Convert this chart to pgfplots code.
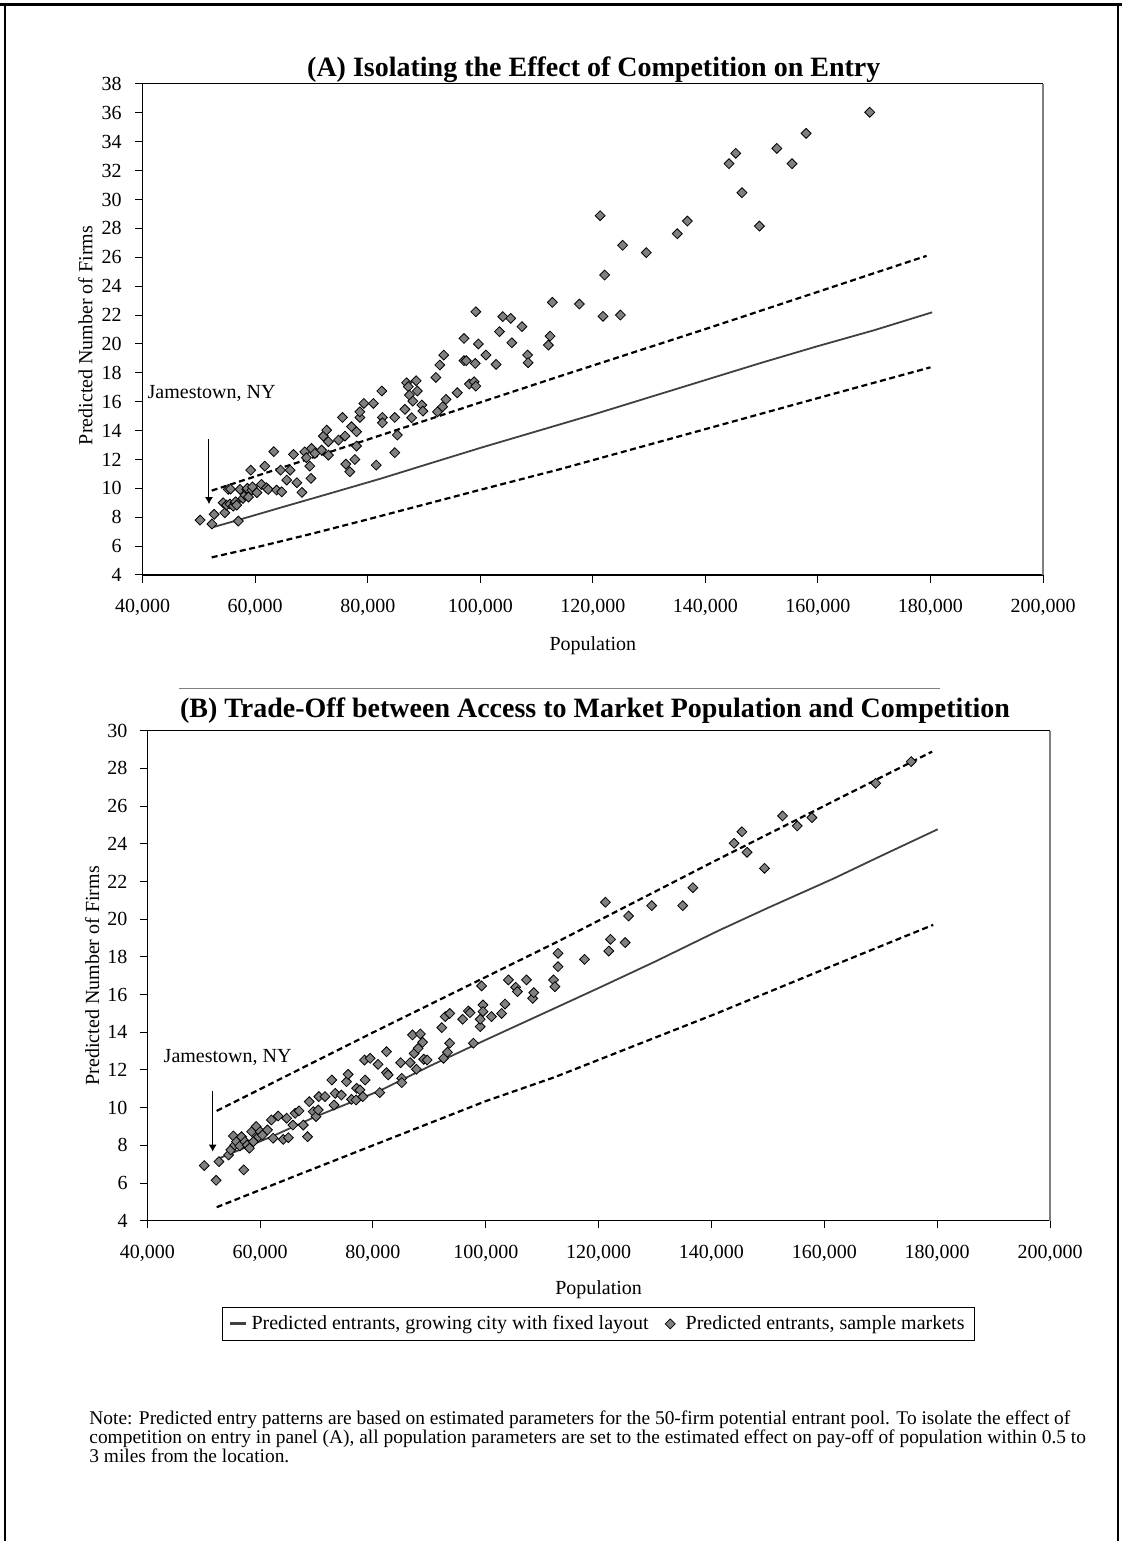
\documentclass[border=0pt]{standalone}
\usepackage{pgfplots}
\pgfplotsset{compat=1.18}
\usepackage{fontspec}
\setmainfont{Liberation Serif}
\usetikzlibrary{arrows.meta}

\definecolor{markgray}{RGB}{128,128,128}
\definecolor{linegray}{RGB}{64,64,64}
\definecolor{framegray}{RGB}{128,128,128}

\pgfplotsset{
  entry/.style={
    scale only axis,
    clip=false,
    xmin=40000, xmax=200000,
    xtick={40000,60000,80000,100000,120000,140000,160000,180000,200000},
    scaled x ticks=false,
    /pgf/number format/fixed,
    /pgf/number format/precision=0,
    /pgf/number format/1000 sep={,},
    /pgf/number format/assume math mode=true,
    axis x line*=bottom, axis y line*=left,
    axis line style={line width=0.6pt},
    tick align=outside,
    major tick length=3.8pt,
    tick style={black, line width=0.5pt},
    tick label style={font=\fontsize{10}{12}\selectfont},
    xticklabel style={inner sep=0pt, anchor=north, yshift=-8.3pt},
    label style={font=\fontsize{10}{12}\selectfont},
    every axis title/.style={anchor=base, inner sep=0pt,
      font=\bfseries\fontsize{14}{16}\selectfont},
  },
  pts/.style={only marks, mark=square*, mark size=1.75pt,
    mark options={rotate=45, fill=markgray, draw=black, line width=0.4pt}},
  mid/.style={linegray, line width=0.9pt, no marks},
  band/.style={black, line width=1.1pt, dash pattern=on 3pt off 1.8pt, no marks},
}

\begin{document}
\begin{tikzpicture}
\path[use as bounding box] (0pt,0pt) rectangle (561pt,770.5pt);
% page frame
\draw[black, line width=1.5pt] (0pt,768.2pt) -- (561pt,768.2pt);
\draw[black, line width=0.8pt] (2.5pt,768.5pt) -- (2.5pt,0pt);
\draw[black, line width=0.8pt] (559pt,768.5pt) -- (559pt,0pt);
\draw[gray, line width=0.5pt] (89.5pt,426pt) -- (470pt,426pt);

% ---------------- panel A
\begin{axis}[entry,
  at={(71.35pt,483pt)}, anchor=south west,
  width=450.15pt, height=245.5pt,
  ymin=4, ymax=38, ytick={4,6,...,38},
  yticklabel style={inner sep=0pt, anchor=east, xshift=-6.5pt},
  title={(A) Isolating the Effect of Competition on Entry},
  title style={at={(axis description cs:0.501,1)}, yshift=3.5pt},
  xlabel={Population},
  xlabel style={at={(axis description cs:0.5,-0.1446)}, anchor=center},
  ylabel={Predicted Number of Firms},
  ylabel style={at={(axis description cs:-0.0635,0.488)}, anchor=center, rotate=0},
]
\draw[black, line width=0.5pt] (rel axis cs:0,1) -- (rel axis cs:1,1);
\draw[framegray, line width=0.7pt] (rel axis cs:1,1) -- (rel axis cs:1,0);

\addplot[band] coordinates {(52260,9.84) (80000,13.38) (113000,17.62) (140000,21.03) (179300,26.1)};
\addplot[band] coordinates {(52260,5.22) (60000,5.9) (70000,6.85) (80000,7.85) (100000,9.9) (114200,11.33) (140000,14.1) (160000,16.25) (180000,18.38)};
\addplot[mid] coordinates {(52140,7.27) (57000,7.81) (65000,8.72) (72400,9.55) (82200,10.66) (90000,11.6) (100000,12.8) (110000,13.95) (120000,15.1) (130000,16.3) (140000,17.5) (150000,18.7) (160000,19.85) (165000,20.4) (170000,20.95) (180300,22.19)};
\addplot[pts] coordinates {
(50200,7.80) (52300,7.53) (52700,8.20) (54300,9.00) (54600,8.31) (54900,8.84)
(55200,9.93) (55600,9.95) (55500,8.91) (56100,8.77) (56400,9.00) (56500,9.07)
(56700,8.84) (57000,7.73) (57300,9.93) (57800,9.30) (58200,9.53) (58500,9.93)
(58600,10.0) (58800,9.40) (59200,11.26) (59400,9.88) (59500,10.1) (60300,9.70)
(61100,10.27) (61700,11.54) (62000,10.04) (62300,9.93) (63300,12.54) (63800,9.88)
(64500,11.26) (64700,9.76) (65600,10.57) (66200,11.26) (66800,12.35) (67400,10.39)
(68300,9.72) (68800,12.53) (69100,12.12) (69700,11.54) (69900,10.69) (70000,12.76)
(70600,12.42) (71800,12.65) (72100,13.62) (72700,14.03) (73000,13.23) (73000,12.30)
(74800,13.34) (75500,14.91) (75950,13.62) (76100,11.68) (76800,11.15) (77100,14.27)
(77700,12.00) (78000,12.93) (78000,13.92) (78600,14.91) (78600,15.30) (79300,15.88)
(81000,15.88) (81500,11.61) (82500,16.74) (82600,14.91) (82600,14.54) (84800,14.91)
(84800,12.47) (85250,13.69) (86600,15.47) (86900,17.31) (87200,17.04) (87400,16.46)
(87800,14.89) (88000,16.04) (88600,17.45) (88800,16.74) (89600,15.77) (89800,15.35)
(92100,17.68) (92400,15.30) (92800,18.54) (93300,15.65) (93500,19.23) (93900,16.16)
(95900,16.62) (97100,20.38) (97100,18.84) (97500,18.84) (98050,17.22) (98900,17.38)
(99100,18.65) (99200,22.23) (99200,17.08) (99650,20.00) (101000,19.23) (102800,18.58)
(103400,20.85) (104000,21.89) (105400,21.77) (105600,20.08) (107400,21.20) (108400,19.23)
(108500,18.70) (112100,19.92) (112400,20.54) (112800,22.88) (117600,22.76) (121300,28.88)
(121800,21.91) (122100,24.77) (124900,22.00) (125300,26.83) (129500,26.32) (135000,27.63)
(136800,28.51) (144200,32.48) (145400,33.20) (146500,30.47) (149600,28.16) (152700,33.54)
(155400,32.48) (157900,34.58) (169200,36.04)
};
\node[anchor=base west, inner sep=0pt, font=\fontsize{10}{12}\selectfont] at (axis cs:40820,16.23) {Jamestown, NY};
\draw[black, line width=0.5pt, -{Latex[length=3.5pt, width=4pt]}] (axis cs:51780,13.40) -- (axis cs:51780,8.91);
\end{axis}

% ---------------- panel B
\begin{axis}[entry,
  at={(73.65pt,160.1pt)}, anchor=south west,
  width=451.35pt, height=245.05pt,
  ymin=4, ymax=30, ytick={4,6,...,30},
  yticklabel style={inner sep=0pt, anchor=east, xshift=-5.9pt},
  title={(B) Trade-Off between Access to Market Population and Competition},
  title style={at={(axis description cs:0.496,1)}, yshift=6.35pt},
  xlabel={Population},
  xlabel style={at={(axis description cs:0.5,-0.141)}, anchor=center},
  ylabel={Predicted Number of Firms},
  ylabel style={at={(axis description cs:-0.061,0.5)}, anchor=center, rotate=0},
  legend columns=2,
  legend style={at={(axis description cs:0.5,-0.1755)}, anchor=north,
    draw=black, line width=0.5pt, font=\fontsize{10}{12}\selectfont,
    inner xsep=3pt, inner ysep=2pt,
    /tikz/every even column/.append style={column sep=6pt}},
]
\draw[black, line width=0.5pt] (rel axis cs:0,1) -- (rel axis cs:1,1);
\draw[framegray, line width=0.7pt] (rel axis cs:1,1) -- (rel axis cs:1,0);

\addplot[band, forget plot] coordinates {(52300,9.83) (80000,13.99) (113000,18.85) (140000,23.0) (179100,28.89)};
\addplot[band, forget plot] coordinates {(52300,4.72) (65900,6.34) (80000,8.0) (100000,10.35) (112200,11.62) (140900,15.0) (160000,17.35) (179300,19.7)};
\addplot[mid, legend image code/.code={\draw[linegray, line width=1.4pt] (0pt,0pt) -- (8pt,0pt);}] coordinates {(52300,7.26) (62300,8.5) (70000,9.55) (81200,10.9) (90000,12.2) (100000,13.6) (113100,15.4) (120000,16.35) (130000,17.75) (141300,19.4) (150000,20.6) (161600,22.15) (170000,23.35) (180100,24.77)};
\addlegendentry{Predicted entrants, growing city with fixed layout}
\addplot[pts, legend image code/.code={
    \path (0pt,0pt) (8pt,0pt);
    \filldraw[fill=markgray, draw=black, line width=0.4pt]
      (2.5pt,2.5pt) -- (5pt,0pt) -- (2.5pt,-2.5pt) -- (0pt,0pt) -- cycle;}] coordinates {
(50100,6.93) (52700,7.14) (52200,6.15) (57100,6.70) (54400,7.49) (54800,7.76)
(55250,8.50) (55500,8.02) (55800,8.20) (56400,7.97) (56700,8.46) (57300,8.20)
(57700,8.02) (58100,7.85) (58500,8.73) (58800,8.20) (59300,9.00) (59700,8.46)
(60000,8.73) (60400,8.55) (61300,8.82) (62000,9.35) (62300,8.38) (63200,9.56)
(64100,8.32) (64700,9.44) (65000,8.41) (65800,9.08) (66200,9.70) (66900,9.83)
(67650,9.08) (68400,8.46) (68700,10.32) (69400,9.79) (69900,9.53) (70300,9.88)
(70400,10.59) (71500,10.59) (72700,11.47) (73100,10.14) (73300,10.76) (74400,10.67)
(75300,11.38) (75600,11.77) (76200,10.44) (77000,10.41) (77100,11.03) (77700,10.94)
(78200,10.59) (78600,11.47) (78500,12.53) (79500,12.62) (80900,12.30) (81200,10.80)
(82400,12.97) (82400,11.86) (82700,11.74) (84900,12.39) (85100,11.56) (85100,11.33)
(86600,12.39) (87000,13.86) (87300,12.88) (87700,12.04) (88000,13.15) (88400,13.91)
(88800,13.47) (89000,12.57) (89600,12.53) (92200,14.25) (92500,12.62) (92800,14.83)
(93200,12.94) (93600,15.00) (93600,13.42) (95900,14.69) (96900,15.13) (97200,15.04)
(97800,13.42) (99000,14.30) (99000,14.69) (99250,16.46) (99500,15.45) (99500,15.10)
(101000,14.83) (102800,15.00) (103400,15.50) (104000,16.78) (105300,16.39) (105600,16.16)
(107200,16.78) (108300,15.80) (108500,16.10) (112000,16.78) (112250,16.42) (112800,17.48)
(112800,18.19) (117500,17.87) (121200,20.90) (121800,18.31) (122100,18.93) (124700,18.76)
(125300,20.17) (129400,20.72) (134900,20.72) (136700,21.67) (144000,24.03) (145400,24.64)
(146300,23.55) (149400,22.70) (152600,25.48) (155200,24.95) (157800,25.39) (169100,27.21)
(175400,28.36)
};
\addlegendentry{Predicted entrants, sample markets}
\node[anchor=base west, inner sep=0pt, font=\fontsize{10}{12}\selectfont] at (axis cs:42840,12.39) {Jamestown, NY};
\draw[black, line width=0.5pt, -{Latex[length=3.5pt, width=4pt]}] (axis cs:51590,10.90) -- (axis cs:51590,7.67);
\end{axis}

% note
\begin{scope}[every node/.style={anchor=base west, inner sep=0pt, font=\fontsize{9.7}{11}\selectfont}]
\node at (44.5pt,58pt) {Note: Predicted entry patterns are based on estimated parameters for the 50-firm potential entrant pool. To isolate the effect of};
\node at (44.5pt,48.7pt) {competition on entry in panel (A), all population parameters are set to the estimated effect on pay-off of population within 0.5 to};
\node at (44.5pt,39.4pt) {3 miles from the location.};
\end{scope}
\end{tikzpicture}
\end{document}
